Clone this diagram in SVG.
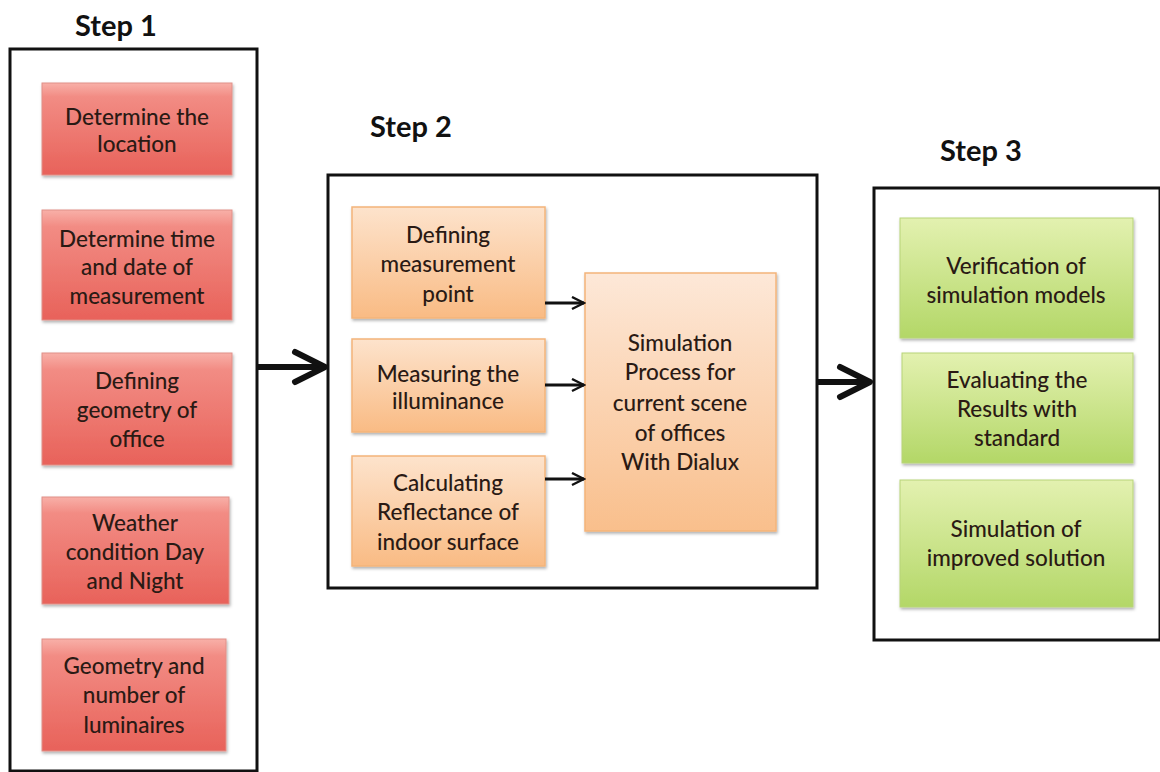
<svg xmlns="http://www.w3.org/2000/svg" width="1160" height="772" viewBox="0 0 1160 772">
<defs>
<linearGradient id="gRed" x1="0" y1="0" x2="0" y2="1">
<stop offset="0" stop-color="#f8b0a8"/><stop offset="0.15" stop-color="#f28c84"/><stop offset="1" stop-color="#e8625a"/>
</linearGradient>
<linearGradient id="gOr" x1="0" y1="0" x2="0" y2="1">
<stop offset="0" stop-color="#fde3cc"/><stop offset="1" stop-color="#f9bb84"/>
</linearGradient>
<linearGradient id="gOrBig" x1="0" y1="0" x2="0" y2="1">
<stop offset="0" stop-color="#fde8d8"/><stop offset="1" stop-color="#f9bf8c"/>
</linearGradient>
<linearGradient id="gGr" x1="0" y1="0" x2="0" y2="1">
<stop offset="0" stop-color="#e3f1b0"/><stop offset="1" stop-color="#b3d767"/>
</linearGradient>
<filter id="sh" x="-5%" y="-5%" width="115%" height="120%">
<feDropShadow dx="1" dy="2" stdDeviation="1.5" flood-color="#000" flood-opacity="0.3"/>
</filter>
<marker id="ah" viewBox="0 0 10 10" refX="9" refY="5" markerWidth="5" markerHeight="5" orient="auto" markerUnits="strokeWidth">
<path d="M1,1 L9,5 L1,9" fill="none" stroke="#111" stroke-width="1.6"/>
</marker>
</defs>
<style>
.cont{fill:#fff;stroke:#111;stroke-width:3}
.step{font-family:Lato,"Liberation Sans",sans-serif;font-weight:bold;font-size:29px;fill:#111}
.t{font-family:Lato,"Liberation Sans",sans-serif;font-size:22.5px;fill:#2a1a14;text-anchor:middle;font-weight:500}
.red{fill:url(#gRed);stroke:#e09088;stroke-width:1;filter:url(#sh)}
.or{fill:url(#gOr);stroke:#f3b47a;stroke-width:1.5;filter:url(#sh)}
.orb{fill:url(#gOrBig);stroke:#f3b47a;stroke-width:1.5;filter:url(#sh)}
.gr{fill:url(#gGr);stroke:#b8d478;stroke-width:1;filter:url(#sh)}
.big{stroke:#111;stroke-width:6;fill:none}
.bighead{stroke:#111;stroke-width:6;fill:none;stroke-linecap:round;stroke-linejoin:round}
.sm{stroke:#111;stroke-width:3;fill:none;marker-end:url(#ah)}
</style>
<rect width="1160" height="772" fill="#fff"/>

<g id="step1">
<text class="step" x="75" y="36">Step 1</text>
<rect class="cont" x="10" y="49" width="247" height="722"/>
</g>
<g id="step2">
<text class="step" x="370" y="137">Step 2</text>
<rect class="cont" x="328" y="175" width="489" height="413"/>
</g>
<g id="step3">
<text class="step" x="940" y="161">Step 3</text>
<rect class="cont" x="874" y="188" width="286" height="452"/>
</g>

<g id="n1"><rect class="red" x="42" y="83" width="190" height="92"/>
<text class="t"><tspan x="137" y="125">Determine the</tspan><tspan x="137" y="152">location</tspan></text></g>
<g id="n2"><rect class="red" x="42" y="210" width="190" height="110"/>
<text class="t"><tspan x="137" y="247">Determine time</tspan><tspan x="137" y="275">and date of</tspan><tspan x="137" y="304">measurement</tspan></text></g>
<g id="n3"><rect class="red" x="42" y="353" width="190" height="112"/>
<text class="t"><tspan x="137" y="389">Defining</tspan><tspan x="137" y="418">geometry of</tspan><tspan x="137" y="447">office</tspan></text></g>
<g id="n4"><rect class="red" x="42" y="497" width="187" height="107"/>
<text class="t"><tspan x="135" y="531">Weather</tspan><tspan x="135" y="560">condition Day</tspan><tspan x="135" y="589">and Night</tspan></text></g>
<g id="n5"><rect class="red" x="42" y="639" width="184" height="112"/>
<text class="t"><tspan x="134" y="674">Geometry and</tspan><tspan x="134" y="703">number of</tspan><tspan x="134" y="733">luminaires</tspan></text></g>

<g id="o1"><rect class="or" x="352" y="207" width="193" height="111"/>
<text class="t"><tspan x="448" y="243">Defining</tspan><tspan x="448" y="272">measurement</tspan><tspan x="448" y="302">point</tspan></text></g>
<g id="o2"><rect class="or" x="352" y="339" width="193" height="93"/>
<text class="t"><tspan x="448" y="382">Measuring  the</tspan><tspan x="448" y="409">illuminance</tspan></text></g>
<g id="o3"><rect class="or" x="352" y="456" width="193" height="110"/>
<text class="t"><tspan x="448" y="491">Calculating</tspan><tspan x="448" y="520">Reflectance of</tspan><tspan x="448" y="550">indoor surface</tspan></text></g>
<g id="o4"><rect class="orb" x="585" y="273" width="191" height="258"/>
<text class="t"><tspan x="680" y="351">Simulation</tspan><tspan x="680" y="380">Process for</tspan><tspan x="680" y="411">current scene</tspan><tspan x="680" y="441">of offices</tspan><tspan x="680" y="470">With Dialux</tspan></text></g>

<g id="g1"><rect class="gr" x="900" y="218" width="233" height="120"/>
<text class="t"><tspan x="1016" y="274">Verification of</tspan><tspan x="1016" y="303">simulation models</tspan></text></g>
<g id="g2"><rect class="gr" x="902" y="353" width="231" height="110"/>
<text class="t"><tspan x="1017" y="388">Evaluating the</tspan><tspan x="1017" y="417">Results with</tspan><tspan x="1017" y="446">standard</tspan></text></g>
<g id="g3"><rect class="gr" x="900" y="480" width="233" height="127"/>
<text class="t"><tspan x="1016" y="537">Simulation of</tspan><tspan x="1016" y="566">improved solution</tspan></text></g>

<g id="connectors">
<line class="big" x1="257" y1="367" x2="324" y2="367"/>
<path class="bighead" d="M295,352 L325,367 L295,382"/>
<line class="big" x1="817" y1="382" x2="868" y2="382"/>
<path class="bighead" d="M840,367 L870,382 L840,397"/>
<line class="sm" x1="545" y1="303" x2="584" y2="303"/>
<line class="sm" x1="545" y1="385" x2="584" y2="385"/>
<line class="sm" x1="545" y1="479" x2="584" y2="479"/>
</g>
</svg>
